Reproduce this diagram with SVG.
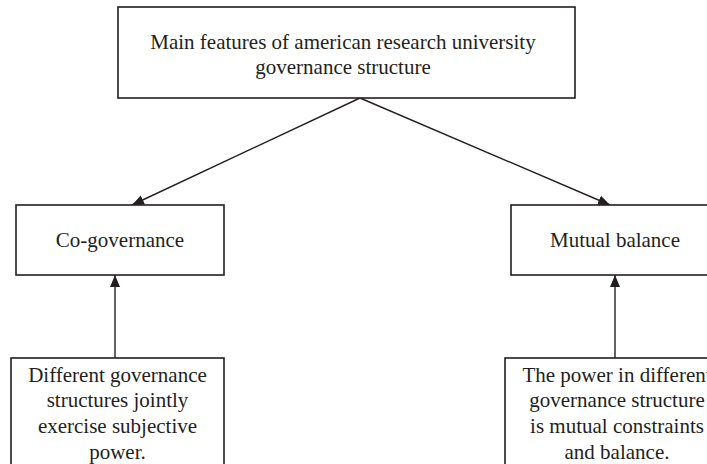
<svg xmlns="http://www.w3.org/2000/svg" width="707" height="464" viewBox="0 0 707 464">
<style>
.box{fill:#fff;stroke:#231f20;stroke-width:1.6}
.t{font-family:"Liberation Serif","Times New Roman",serif;font-size:21px;fill:#231f20;text-anchor:middle}
.c{stroke:#231f20;stroke-width:1.4;fill:none}
</style>
<defs>
<marker id="ah" viewBox="0 0 12 10" refX="12" refY="5" markerWidth="12" markerHeight="10" markerUnits="userSpaceOnUse" orient="auto">
<path d="M0,0 L12,5 L0,10 z" fill="#231f20"/>
</marker>
</defs>
<rect width="707" height="464" fill="#fff"/>
<g id="connectors">
<line class="c" x1="360" y1="98" x2="132" y2="205" marker-end="url(#ah)"/>
<line class="c" x1="360" y1="98" x2="610" y2="205" marker-end="url(#ah)"/>
<line class="c" x1="115" y1="358" x2="115" y2="275" marker-end="url(#ah)"/>
<line class="c" x1="615" y1="358" x2="615" y2="275" marker-end="url(#ah)"/>
</g>
<g id="main">
<rect class="box" x="118" y="7" width="457" height="91"/>
<text class="t" x="343" y="49">Main features of american research university</text>
<text class="t" x="343" y="74">governance structure</text>
</g>
<g id="cogovernance">
<rect class="box" x="16" y="205" width="208" height="70"/>
<text class="t" x="120" y="247">Co-governance</text>
</g>
<g id="mutual">
<rect class="box" x="511" y="205" width="208" height="70"/>
<text class="t" x="615" y="247">Mutual balance</text>
</g>
<g id="different">
<rect class="box" x="11" y="358" width="213" height="112"/>
<text class="t" x="117.5" y="382">Different governance</text>
<text class="t" x="117.5" y="407">structures jointly</text>
<text class="t" x="117.5" y="433">exercise subjective</text>
<text class="t" x="117.5" y="459">power.</text>
</g>
<g id="power">
<rect class="box" x="505" y="358" width="224" height="112"/>
<text class="t" x="617" y="382">The power in different</text>
<text class="t" x="617" y="407">governance structure</text>
<text class="t" x="617" y="433">is mutual constraints</text>
<text class="t" x="617" y="459">and balance.</text>
</g>
</svg>
